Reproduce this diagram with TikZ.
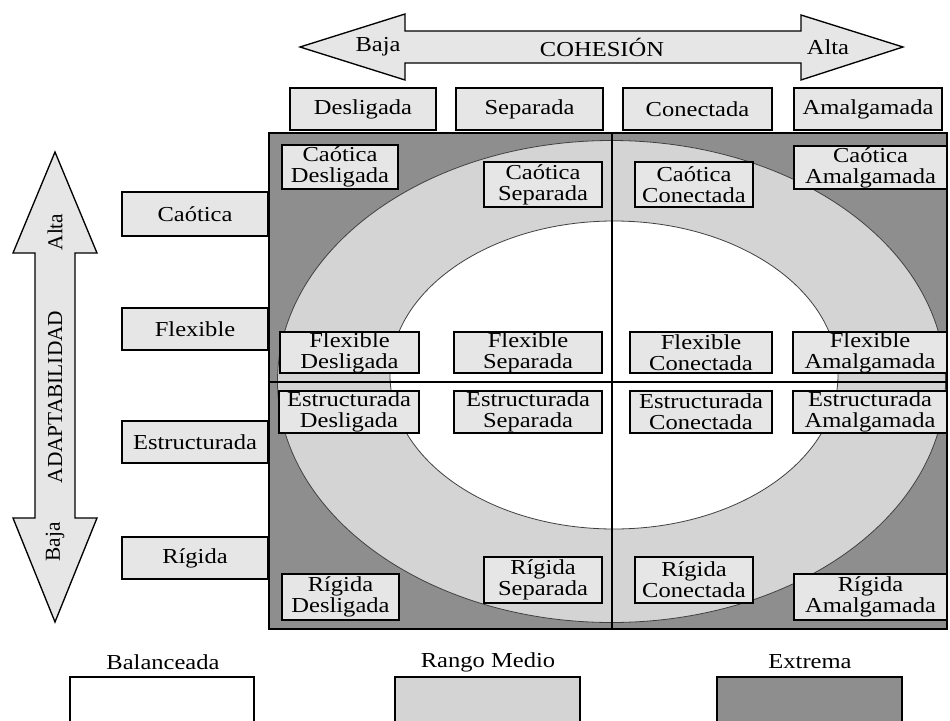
\documentclass[tikz,border=0pt]{standalone}
\usepackage{fontspec}
\setmainfont{Liberation Serif}[FakeStretch=1.15]
\newfontfamily\vertfont{Liberation Serif}
\newcommand{\boxfont}{\fontsize{16}{15.6}\selectfont}
\definecolor{extremagray}{RGB}{142,142,142}
\definecolor{rangogray}{RGB}{212,212,212}
\definecolor{cellgray}{RGB}{230,230,230}

\tikzset{
  cell/.style 2 args={draw, line width=1.4pt, fill=cellgray, inner sep=0pt,
    minimum width=#1*0.75pt, minimum height=#2*0.75pt, align=center, font=\boxfont},
  bigarrow/.style={draw, line width=1pt, fill=cellgray, line join=miter},
  txt/.style={inner sep=0.75pt, font=\boxfont},
  vtxt/.style={inner sep=0.75pt, rotate=90, font=\vertfont\boxfont}
}

\begin{document}
\begin{tikzpicture}[x=0.75pt,y=0.75pt,yscale=-1,xscale=1]
\useasboundingbox (0,0) rectangle (950,721);

%Shape: Arrow cohesion
\draw [bigarrow] (300,47) -- (405,14) -- (405,31) -- (801,31) -- (801,15) -- (903,47) -- (801,80) -- (801,63) -- (405,63) -- (405,80) -- cycle ;
%Shape: Arrow adaptabilidad
\draw [bigarrow] (55,152) -- (97,253) -- (75,253) -- (75,518) -- (97,518) -- (55,622) -- (13,518) -- (35,518) -- (35,253) -- (13,253) -- cycle ;

% Text Node
\node [txt] (cbaja) at (378,47) {Baja};
\node [txt] (coh) at (602,47) {COHESIÓN};
\node [txt] (calta) at (828,47) {Alta};
\node [vtxt] (aalta) at (55,232) {Alta};
\node [vtxt] (adapt) at (55,397) {ADAPTABILIDAD};
\node [vtxt] (abaja) at (55,542) {Baja};

%Shape: Square extrema
\fill [extremagray] (269,133) rectangle (947,629) ;
%Shape: Ellipse rango medio
\draw [fill=rangogray, draw=black!75, line width=0.6pt] (611.5,381.5) ellipse [x radius=250.5pt, y radius=180.75pt] ;
%Shape: Ellipse balanceada
\draw [fill=white, draw=black!75, line width=0.6pt] (614,375) ellipse [x radius=168pt, y radius=115.5pt] ;
%Straight Lines
\draw [line width=1.2pt] (612,133) -- (612,629) ;
\draw [line width=1.2pt] (269,382) -- (947,382) ;
\draw [line width=1.6pt] (269,133) rectangle (947,629) ;

% Cohesion headers
\node [cell={146}{42}] (hdes) at (363,109) {Desligada};
\node [cell={147}{42}] (hsep) at (529.5,109) {Separada};
\node [cell={149}{42}] (hcon) at (697.5,109) {Conectada};
\node [cell={148}{42}] (hama) at (868,109) {Amalgamada};

% Adaptabilidad headers
\node [cell={146}{44}] (vcao) at (195,214) {Caótica};
\node [cell={146}{42}] (vfle) at (195,329) {Flexible};
\node [cell={146}{42}] (vest) at (195,442) {Estructurada};
\node [cell={146}{42}] (vrig) at (195,558) {Rígida};

% Caotica row
\node [cell={116}{44}] (cd) at (340,167) {Caótica\\Desligada};
\node [cell={118}{45}] (cs) at (543,184.5) {Caótica\\Separada};
\node [cell={118}{45}] (cc) at (694,184.5) {Caótica\\Conectada};
\node [cell={153}{43}] (ca) at (870.5,167.5) {Caótica\\Amalgamada};
% Flexible row
\node [cell={139}{41}] (fd) at (349.5,352.5) {Flexible\\Desligada};
\node [cell={148}{41}] (fs) at (528,352.5) {Flexible\\Separada};
\node [cell={142}{41}] (fc) at (701,352.5) {Flexible\\Conectada};
\node [cell={154}{41}] (fa) at (870,352.5) {Flexible\\Amalgamada};
% Estructurada row
\node [cell={140}{42}] (ed) at (349,412) {Estructurada\\Desligada};
\node [cell={148}{42}] (es) at (528,412) {Estructurada\\Separada};
\node [cell={142}{42}] (ec) at (701,412) {Estructurada\\Conectada};
\node [cell={154}{42}] (ea) at (870,412) {Estructurada\\Amalgamada};
% Rigida row
\node [cell={117}{46}] (rd) at (340.5,597) {Rígida\\Desligada};
\node [cell={118}{46}] (rs) at (543,580) {Rígida\\Separada};
\node [cell={118}{46}] (rc) at (694,580) {Rígida\\Conectada};
\node [cell={153}{46}] (ra) at (870.5,597) {Rígida\\Amalgamada};

% Legend
\node [txt] (lbal) at (163,662) {Balanceada};
\node [txt] (lran) at (488,662) {Rango Medio};
\node [txt] (lext) at (810,662) {Extrema};
\filldraw [fill=white, line width=1.4pt] (70,721) -- (70,677) -- (254,677) -- (254,721) ;
\filldraw [fill=rangogray, line width=1.4pt] (395,721) -- (395,677) -- (580,677) -- (580,721) ;
\filldraw [fill=extremagray, line width=1.4pt] (717,721) -- (717,677) -- (902,677) -- (902,721) ;

\end{tikzpicture}
\end{document}
